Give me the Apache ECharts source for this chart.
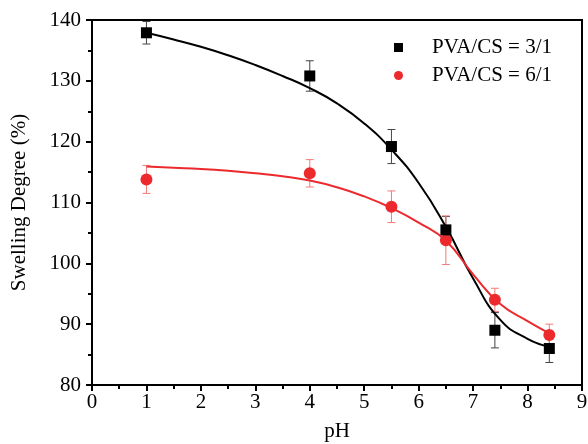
<!DOCTYPE html>
<html>
<head>
<meta charset="utf-8">
<script src="https://cdn.jsdelivr.net/npm/echarts@6/dist/echarts.min.js"></script>
<style>
  html, body { margin: 0; padding: 0; background: #fff; }
  #main { width: 588px; height: 444px; }
</style>
</head>
<body>
<div id="main"></div>
<script>
  // measured points
  var phValues = [1, 4, 5.5, 6.5, 7.4, 8.4];
  var sd31 = [137.9, 130.8, 119.2, 105.5, 89.0, 86.0];
  var err31 = [1.85, 2.5, 2.8, 2.2, 2.9, 2.3];
  var sd61 = [113.8, 114.8, 109.3, 103.8, 94.0, 88.2];
  var err61 = [2.3, 2.25, 2.6, 4.0, 1.9, 1.8];

  // fitted curves
  var fitPh = [1, 1.5, 2, 2.5, 3, 3.5, 4, 4.5, 5, 5.5, 6, 6.5, 7, 7.5, 8, 8.4];
  var fit31 = [137.9, 136.8, 135.6, 134.2, 132.6, 130.8, 128.8, 126.3, 123.0, 118.7, 113.2, 106.0, 97.5, 90.7, 87.6, 86.3];
  var fit61 = [115.9, 115.7, 115.5, 115.2, 114.8, 114.3, 113.6, 112.5, 111.0, 109.1, 106.7, 103.7, 98.2, 93.3, 90.5, 88.5];

  var font = "'Liberation Serif', 'Times New Roman', serif";

  function pairs(xs, ys) {
    return xs.map(function (x, i) { return [x, ys[i]]; });
  }
  function errData(xs, ys, es) {
    return xs.map(function (x, i) { return [x, ys[i] - es[i], ys[i] + es[i]]; });
  }
  function errSeries(data, color) {
    return {
      type: 'custom',
      silent: true,
      z: 1,
      data: data,
      renderItem: function (params, api) {
        var lo = api.coord([api.value(0), api.value(1)]);
        var hi = api.coord([api.value(0), api.value(2)]);
        var w = 4;
        var st = { stroke: color, lineWidth: 1 };
        return {
          type: 'group',
          children: [
            { type: 'line', shape: { x1: lo[0], y1: lo[1], x2: hi[0], y2: hi[1] }, style: st },
            { type: 'line', shape: { x1: lo[0] - w, y1: lo[1], x2: lo[0] + w, y2: lo[1] }, style: st },
            { type: 'line', shape: { x1: hi[0] - w, y1: hi[1], x2: hi[0] + w, y2: hi[1] }, style: st }
          ]
        };
      }
    };
  }

  var axisCommon = {
    axisLine: { show: true, lineStyle: { color: '#000', width: 2 } },
    axisTick: { show: true, length: 6, lineStyle: { color: '#000', width: 2 } },
    minorTick: { show: true, splitNumber: 2, length: 4, lineStyle: { color: '#000', width: 2 } },
    splitLine: { show: false }
  };

  var chart = echarts.init(document.getElementById('main'));
  chart.setOption({
    animation: false,
    backgroundColor: '#fff',
    grid: {
      left: 92, right: 6, top: 20, bottom: 59,
      outerBoundsMode: 'none',
      show: true, borderColor: '#000', borderWidth: 2
    },
    legend: {
      orient: 'vertical',
      left: 389, top: 32,
      itemWidth: 9, itemHeight: 9, itemGap: 7,
      data: [
        { name: 'PVA/CS = 3/1', icon: 'rect' },
        { name: 'PVA/CS = 6/1', icon: 'circle' }
      ],
      textStyle: { fontFamily: font, fontSize: 21, color: '#000', padding: [0, 0, 0, 24] }
    },
    xAxis: Object.assign({
      type: 'value', min: 0, max: 9, interval: 1,
      name: 'pH', nameLocation: 'middle', nameGap: 36,
      nameTextStyle: { fontFamily: font, fontSize: 21, color: '#000' },
      axisLabel: { fontFamily: font, fontSize: 21, color: '#000', margin: 7 }
    }, axisCommon),
    yAxis: Object.assign({
      type: 'value', min: 80, max: 140, interval: 10,
      name: 'Swelling Degree (%)', nameLocation: 'middle', nameGap: 62,
      nameTextStyle: { fontFamily: font, fontSize: 21, color: '#000' },
      axisLabel: { fontFamily: font, fontSize: 21, color: '#000', margin: 11 }
    }, axisCommon),
    series: [
      {
        name: 'fit31', type: 'line', data: pairs(fitPh, fit31),
        smooth: 0.5, showSymbol: false, silent: true, z: 2,
        lineStyle: { color: '#000', width: 2 }
      },
      {
        name: 'fit61', type: 'line', data: pairs(fitPh, fit61),
        smooth: 0.5, showSymbol: false, silent: true, z: 2,
        lineStyle: { color: '#ec2a2e', width: 2 }
      },
      errSeries(errData(phValues, sd31, err31), '#444'),
      errSeries(errData(phValues, sd61, err61), '#f27a7a'),
      {
        name: 'PVA/CS = 3/1', type: 'scatter', data: pairs(phValues, sd31),
        symbol: 'rect', symbolSize: 11, z: 4,
        itemStyle: { color: '#000', opacity: 1 }
      },
      {
        name: 'PVA/CS = 6/1', type: 'scatter', data: pairs(phValues, sd61),
        symbol: 'circle', symbolSize: 12, z: 3,
        itemStyle: { color: '#ec2a2e', opacity: 1 }
      }
    ]
  });
</script>
</body>
</html>
